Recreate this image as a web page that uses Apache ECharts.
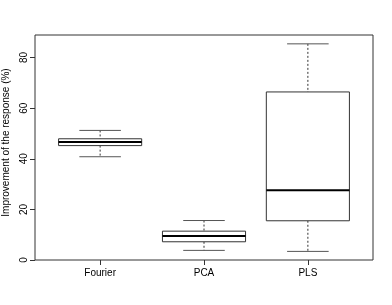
<!DOCTYPE html>
<html><head><meta charset="utf-8">
<script src="https://cdn.jsdelivr.net/npm/echarts@6/dist/echarts.min.js"></script>
<style>html,body{margin:0;padding:0;background:#fff}#c{width:392px;height:305px}</style>
</head><body><div id="c"></div>
<script>
var categories = ["Fourier", "PCA", "PLS"];
var whiskerLow = [40.8, 3.8, 3.4];
var q1 = [45.2, 7.2, 15.5];
var median = [46.6, 9.5, 27.6];
var q3 = [47.9, 11.4, 66.4];
var whiskerHigh = [51.2, 15.6, 85.4];
var yTicks = [0, 20, 40, 60, 80];

var data = categories.map(function (c, i) {
  return [i + 1, whiskerLow[i], q1[i], median[i], q3[i], whiskerHigh[i]];
});
var FONT = 'Liberation Sans, Arial, sans-serif';
var chart = echarts.init(document.getElementById('c'), null, {renderer: 'canvas'});
chart.setOption({
  animation: false,
  grid: {left: 35, top: 35, right: 19, bottom: 45, containLabel: false, outerBoundsMode: 'none', show: true, borderColor: '#333', borderWidth: 1, backgroundColor: 'transparent'},
  xAxis: {
    type: 'value', min: 0.373, max: 3.627,
    axisLine: {show: false},
    splitLine: {show: false},
    axisTick: {show: true, customValues: [1, 2, 3], length: 5, lineStyle: {color: '#333'}},
    axisLabel: {show: true, customValues: [1, 2, 3], margin: 8, fontSize: 10, color: '#000', fontFamily: FONT,
      formatter: function (v) { return categories[Math.round(v) - 1] || ''; }}
  },
  yAxis: {
    type: 'value', min: 0, max: 88.9,
    name: 'Improvement of the response (%)', nameLocation: 'middle', nameRotate: 90, nameGap: 23,
    nameTextStyle: {fontSize: 10, color: '#000', fontFamily: FONT, padding: [0, 0, 0, 10]},
    axisLine: {show: false},
    splitLine: {show: false},
    axisTick: {show: true, customValues: yTicks, length: 5, lineStyle: {color: '#333'}},
    axisLabel: {show: true, customValues: yTicks, rotate: 90, margin: 6, fontSize: 10, color: '#000', fontFamily: FONT}
  },
  series: [{
    type: 'custom',
    data: data,
    renderItem: function (params, api) {
      var x = api.value(0);
      var lo = api.coord([x, api.value(1)]);
      var b1 = api.coord([x, api.value(2)]);
      var md = api.coord([x, api.value(3)]);
      var b3 = api.coord([x, api.value(4)]);
      var hi = api.coord([x, api.value(5)]);
      var left = api.coord([x - 0.4, 0])[0];
      var right = api.coord([x + 0.4, 0])[0];
      var cl = api.coord([x - 0.2, 0])[0];
      var cr = api.coord([x + 0.2, 0])[0];
      var cx = lo[0];
      var dash = {stroke: '#333', lineWidth: 1, lineDash: [2, 2]};
      return {
        type: 'group',
        children: [
          {type: 'line', shape: {x1: cx, y1: hi[1], x2: cx, y2: b3[1]}, style: dash},
          {type: 'line', shape: {x1: cx, y1: b1[1], x2: cx, y2: lo[1]}, style: dash},
          {type: 'line', shape: {x1: cl, y1: hi[1], x2: cr, y2: hi[1]}, style: {stroke: '#555', lineWidth: 1}},
          {type: 'line', shape: {x1: cl, y1: lo[1], x2: cr, y2: lo[1]}, style: {stroke: '#555', lineWidth: 1}},
          {type: 'rect', shape: {x: left, y: b3[1], width: right - left, height: b1[1] - b3[1]}, style: {stroke: '#333', lineWidth: 1, fill: '#fff'}},
          {type: 'line', shape: {x1: left, y1: md[1], x2: right, y2: md[1]}, style: {stroke: '#000', lineWidth: 2}}
        ]
      };
    }
  }]
});
</script></body></html>
